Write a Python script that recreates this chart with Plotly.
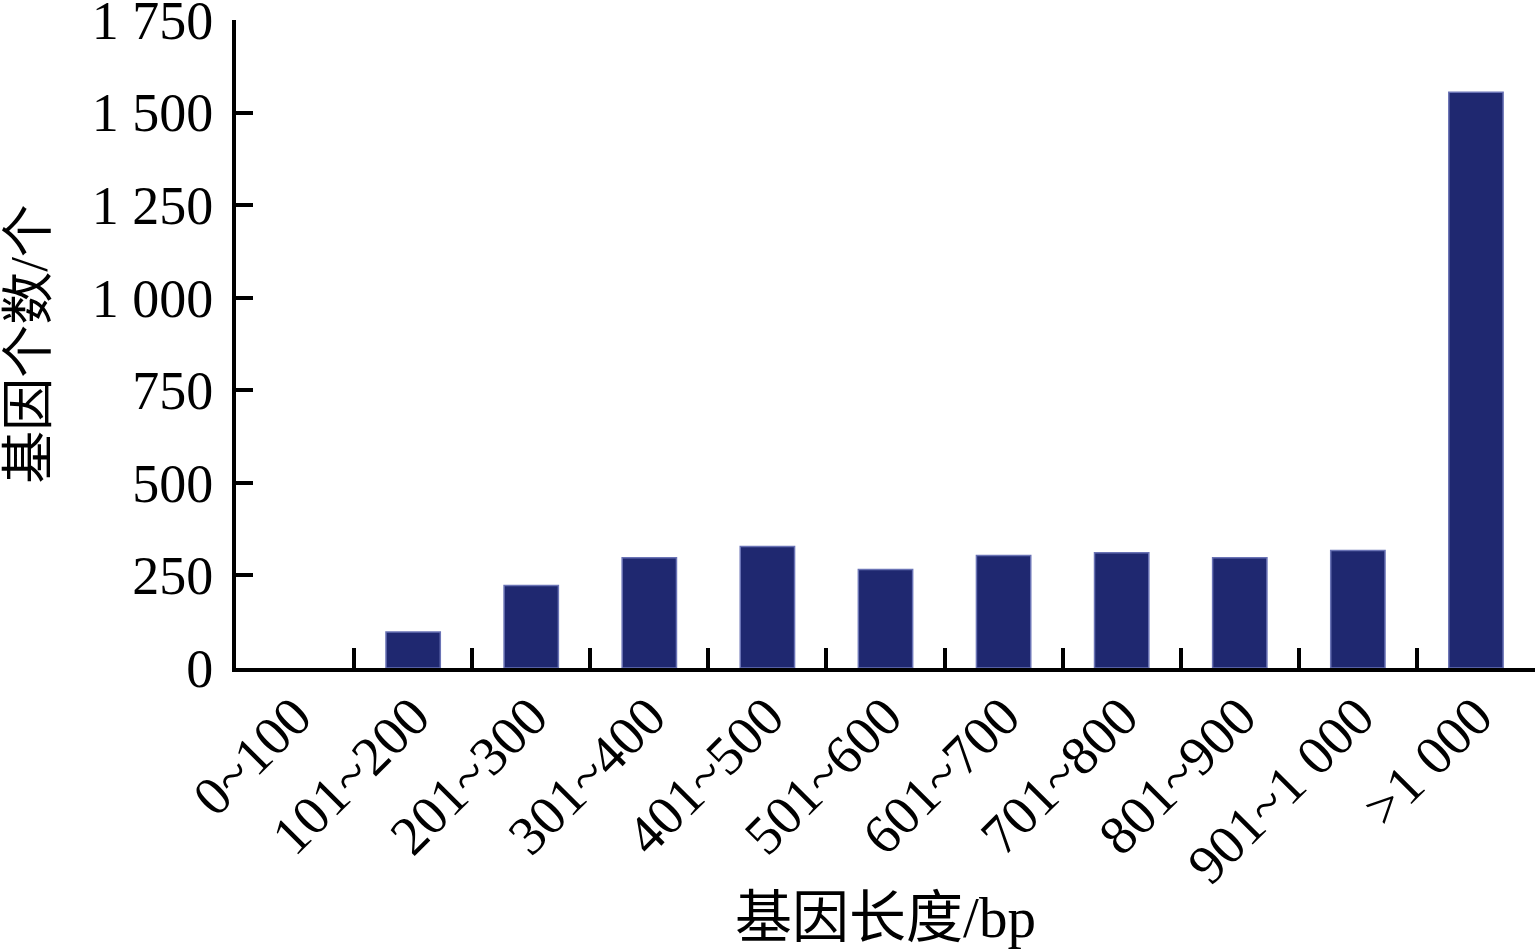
import plotly.graph_objects as go

categories = ["0~100", "101~200", "201~300", "301~400", "401~500", "501~600",
              "601~700", "701~800", "801~900", "901~1 000", ">1 000"]
counts = [0, 97, 223, 298, 328, 266, 304, 311, 298, 317, 1555]
y_tickvals = [0, 250, 500, 750, 1000, 1250, 1500, 1750]
y_ticktext = ["0", "250", "500", "750", "1 000", "1 250", "1 500", "1 750"]

FONT = "Liberation Serif, Noto Sans CJK SC, serif"

fig = go.Figure(go.Bar(
    x=categories, y=counts, width=0.46,
    marker=dict(color="#1f2870",
                line=dict(color="#6a73b5", width=[0 if c == 0 else 1.5 for c in counts])),
))

fig.update_layout(
    width=1538, height=949,
    margin=dict(l=236, r=3, t=20, b=281),
    plot_bgcolor="white", paper_bgcolor="white",
    showlegend=False,
    font=dict(family=FONT, size=55, color="black"),
)
fig.update_xaxes(
    type="category", tickson="boundaries", automargin=False,
    showline=True, linecolor="black", linewidth=4,
    ticks="inside", ticklen=20, tickwidth=4, tickcolor="black",
    tickangle=-45, tickfont=dict(family=FONT, size=55),
    ticklabelstandoff=-10,
    showgrid=False, zeroline=False,
    title=dict(text="基因长度/bp", font=dict(family=FONT, size=57), standoff=16),
)
fig.update_yaxes(
    range=[0, 1750], tickvals=y_tickvals, ticktext=y_ticktext, automargin=False,
    showline=True, linecolor="black", linewidth=4,
    ticks="inside", ticklen=17, tickwidth=4, tickcolor="black",
    tickfont=dict(family=FONT, size=54), ticklabelstandoff=8,
    ticklabeloverflow="allow",
    showgrid=False, zeroline=False,
    title=dict(text="基因个数/个", font=dict(family=FONT, size=53), standoff=28),
)

fig.write_html("out.html", config={"displayModeBar": False},
               post_script="document.body.style.margin='0';")
